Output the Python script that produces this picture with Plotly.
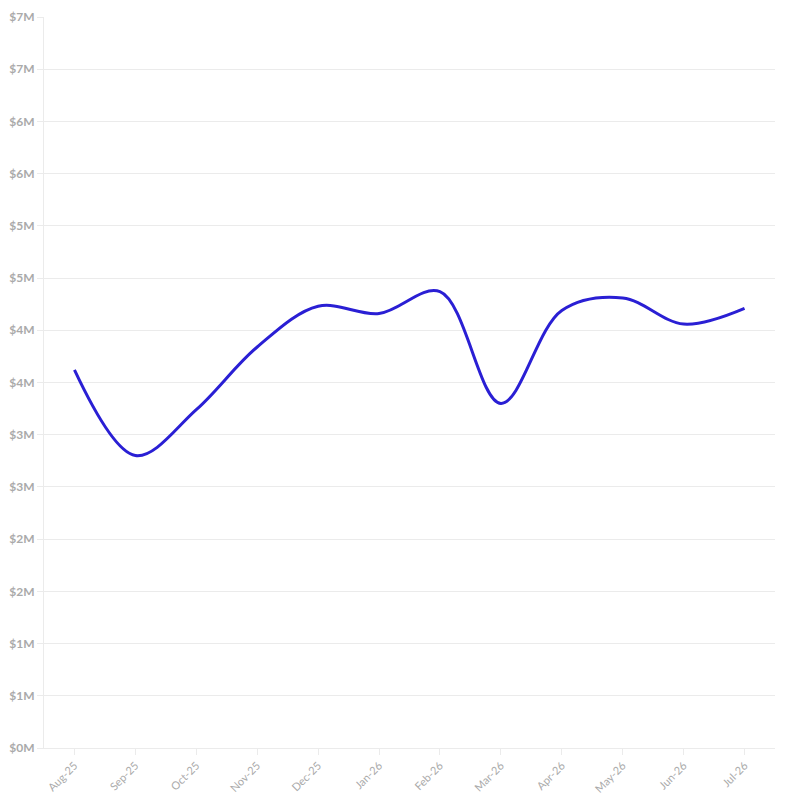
import plotly.graph_objects as go

# Months and values (in millions of dollars)
months = ["Aug-25", "Sep-25", "Oct-25", "Nov-25", "Dec-25", "Jan-26",
          "Feb-26", "Mar-26", "Apr-26", "May-26", "Jun-26", "Jul-26"]
values = [3.62, 2.80, 3.24, 3.84, 4.23, 4.16, 4.37, 3.30, 4.19, 4.31, 4.06, 4.21]

# Y ticks every 0.5M, labels rounded to whole millions
tick_vals = [0, 0.5, 1, 1.5, 2, 2.5, 3, 3.5, 4, 4.5, 5, 5.5, 6, 6.5, 7]
tick_text = ["$0M", "$1M", "$1M", "$2M", "$2M", "$3M", "$3M", "$4M",
             "$4M", "$5M", "$5M", "$6M", "$6M", "$7M", "$7M"]

fig = go.Figure()
fig.add_trace(go.Scatter(
    x=months,
    y=values,
    mode="lines",
    line=dict(color="#2a1fd4", width=3, shape="spline", smoothing=1.0),
    hoverinfo="x+y",
))

grid = "#ebebeb"
# page body has an 8px margin, so the figure is sized/offset to fit
fig.update_layout(
    width=786,
    height=798,
    margin=dict(l=36, r=19, t=9, b=58),
    paper_bgcolor="white",
    plot_bgcolor="white",
    showlegend=False,
    font=dict(family="Lato, 'Open Sans', sans-serif", color="#aaaaaa"),
    xaxis=dict(
        type="category",
        tickangle=-45,
        tickfont=dict(size=11, color="#aaaaaa"),
        ticks="outside",
        ticklen=6,
        tickcolor=grid,
        showgrid=False,
        showline=True,
        linecolor=grid,
        automargin=False,
        range=[-0.5, len(months) - 0.5],
    ),
    yaxis=dict(
        range=[0, 7],
        tickvals=tick_vals,
        ticktext=tick_text,
        tickfont=dict(size=12, color="#aaaaaa", weight="bold"),
        ticks="outside",
        ticklen=6,
        tickcolor=grid,
        showgrid=True,
        gridcolor=grid,
        gridwidth=1,
        showline=True,
        linecolor=grid,
        zeroline=False,
        automargin=False,
    ),
)

fig.write_html("out.html")
